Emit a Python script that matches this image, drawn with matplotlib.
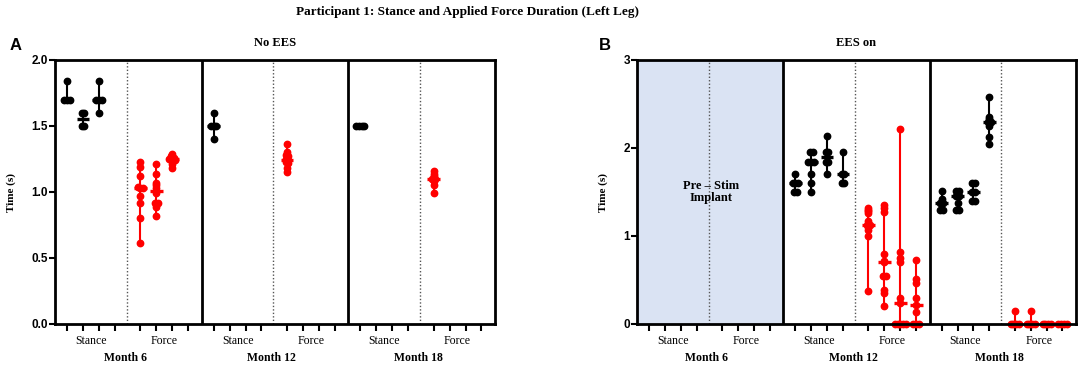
import matplotlib
matplotlib.use("Agg")
import matplotlib.pyplot as plt
import matplotlib.transforms as mtransforms
import numpy as np

TITLE = "Participant 1: Stance and Applied Force Duration (Left Leg)"
MONTHS = ["Month 6", "Month 12", "Month 18"]
PHASES = ["Stance", "Force"]
PANEL_TITLES = ["No EES", "EES on"]
PANEL_LETTERS = ["A", "B"]
A_YTICKS = [0.0, 0.5, 1.0, 1.5, 2.0]
B_YTICKS = [0, 1, 2, 3]
SHADE_TEXT = "Pre \u2013 Stim\nImplant"

# ---------- Panel A : No EES ----------
A_M6_STANCE = [[1.84, 1.70, 1.70, 1.70],
               [1.60, 1.60, 1.50, 1.50],
               [1.84, 1.70, 1.70, 1.70, 1.60]]
A_M6_FORCE = [[1.23, 1.19, 1.12, 1.04, 1.03, 1.03, 0.97, 0.92, 0.80, 0.61],
              [1.21, 1.14, 1.07, 1.05, 1.03, 0.99, 0.92, 0.92, 0.89, 0.82],
              [1.29, 1.27, 1.26, 1.25, 1.25, 1.24, 1.21, 1.18]]
A_M12_STANCE = [[1.60, 1.50, 1.50, 1.50, 1.40]]
A_M12_FORCE = [[1.36, 1.30, 1.28, 1.27, 1.25, 1.24, 1.23, 1.22, 1.18, 1.15]]
A_M18_STANCE = [[1.50, 1.50, 1.50, 1.50]]
A_M18_FORCE = [[1.16, 1.14, 1.12, 1.10, 1.10, 1.08, 1.05, 0.99]]

# ---------- Panel B : EES on ----------
B_M6_STANCE = []
B_M6_FORCE = []
B_M12_STANCE = [[1.70, 1.60, 1.60, 1.60, 1.50, 1.50],
                [1.95, 1.95, 1.84, 1.84, 1.84, 1.70, 1.60, 1.50],
                [2.14, 1.95, 1.95, 1.84, 1.84, 1.70],
                [1.95, 1.70, 1.70, 1.60, 1.60]]
B_M12_FORCE = [[1.32, 1.30, 1.28, 1.26, 1.17, 1.13, 1.12, 1.10, 1.07, 1.00, 0.38],
               [1.35, 1.32, 1.27, 0.79, 0.72, 0.70, 0.55, 0.55, 0.39, 0.35, 0.20],
               [2.22, 0.82, 0.75, 0.70, 0.30, 0.24, 0.0, 0.0, 0.0, 0.0, 0.0],
               [0.73, 0.51, 0.47, 0.30, 0.22, 0.14, 0.0, 0.0, 0.0]]
B_M18_STANCE = [[1.51, 1.42, 1.38, 1.38, 1.30, 1.30],
                [1.51, 1.51, 1.45, 1.45, 1.38, 1.30, 1.30],
                [1.60, 1.60, 1.50, 1.50, 1.40, 1.40],
                [2.58, 2.35, 2.33, 2.30, 2.30, 2.28, 2.25, 2.13, 2.04]]
B_M18_FORCE = [[0.15, 0.0, 0.0, 0.0, 0.0],
               [0.15, 0.0, 0.0, 0.0, 0.0],
               [0.0, 0.0, 0.0, 0.0],
               [0.0, 0.0, 0.0, 0.0]]

A_DATA = [(A_M6_STANCE, A_M6_FORCE), (A_M12_STANCE, A_M12_FORCE), (A_M18_STANCE, A_M18_FORCE)]
B_DATA = [(B_M6_STANCE, B_M6_FORCE), (B_M12_STANCE, B_M12_FORCE), (B_M18_STANCE, B_M18_FORCE)]

SERIF = "Liberation Serif"
SANS = "Liberation Sans"

SEC_W = 9.2
STANCE_X0 = 0.75
FORCE_X0 = 5.35
DIV_X = 4.5
SLOTS = 4


def draw_group(ax, x, vals, color, tol, dx):
    if not vals:
        return
    v = np.sort(np.asarray(vals, dtype=float))[::-1]
    # cluster near-equal values and spread them sideways
    xs = np.zeros_like(v)
    clusters = []
    cur = [0]
    for i in range(1, len(v)):
        if abs(v[cur[0]] - v[i]) <= tol:
            cur.append(i)
        else:
            clusters.append(cur)
            cur = [i]
    clusters.append(cur)
    for c in clusters:
        n = len(c)
        for k, idx in enumerate(c):
            xs[idx] = x + (k - (n - 1) / 2.0) * dx
    med = np.median(v)
    ax.vlines(x, v.min(), v.max(), color=color, lw=1.5, zorder=3)
    ax.hlines(med, x - 0.4, x + 0.4, color=color, lw=2.4, zorder=4)
    ax.plot(xs, v, 'o', ms=4.6, color=color, mec=color, zorder=5, clip_on=False)


def make_panel(ax, data, ymax, yticks, fmt, tol, shade=False):
    ax.set_xlim(0, 3 * SEC_W)
    ax.set_ylim(0, ymax)
    if shade:
        ax.axvspan(0, SEC_W, color="#dae3f3", zorder=0)
        ax.text(SEC_W / 2 + 0.05, ymax * 0.5, SHADE_TEXT, ha="center", va="center",
                fontsize=9, fontweight="bold", family=SERIF, zorder=6, linespacing=1.1)
    ticks = []
    for m, (stance, force) in enumerate(data):
        off = m * SEC_W
        for i in range(SLOTS):
            ticks.append(off + STANCE_X0 + i)
            ticks.append(off + FORCE_X0 + i)
        for i, g in enumerate(stance):
            draw_group(ax, off + STANCE_X0 + i, g, "black", tol, 0.17)
        for i, g in enumerate(force):
            draw_group(ax, off + FORCE_X0 + i, g, "red", tol, 0.17)
        ax.axvline(off + DIV_X, color="#555555", lw=1.0, ls=(0, (1, 1.5)), zorder=2)
        if m > 0:
            ax.axvline(off, color="black", lw=2.0, zorder=6)
        trans = mtransforms.blended_transform_factory(ax.transData, ax.transAxes)
        ax.text(off + STANCE_X0 + 1.5, -0.04, PHASES[0], transform=trans, ha="center", va="top",
                fontsize=8.5, family=SERIF)
        ax.text(off + FORCE_X0 + 1.5, -0.04, PHASES[1], transform=trans, ha="center", va="top",
                fontsize=8.5, family=SERIF)
        ax.text(off + DIV_X - 0.1, -0.105, MONTHS[m], transform=trans, ha="center", va="top",
                fontsize=8.5, fontweight="bold", family=SERIF)
    ax.set_xticks(sorted(ticks))
    ax.set_xticklabels([])
    ax.tick_params(axis="x", direction="out", length=5, width=1.5)
    ax.set_yticks(yticks)
    ax.set_yticklabels([fmt.format(t) for t in yticks], fontsize=8.5, fontweight="bold", family=SANS)
    ax.tick_params(axis="y", direction="out", length=4, width=1.5, pad=1)
    for s in ax.spines.values():
        s.set_linewidth(2.0)
        s.set_zorder(7)
    ax.set_ylabel("Time (s)", fontsize=8, fontweight="bold", family=SERIF, labelpad=11)


fig = plt.figure(figsize=(10.84, 3.69), dpi=100)
W, H = 1084.0, 369.0
axA = fig.add_axes([55 / W, 1 - 324 / H, 440 / W, 264 / H])
axB = fig.add_axes([637 / W, 1 - 324 / H, 439 / W, 264 / H])

make_panel(axA, A_DATA, 2.0, A_YTICKS, "{:.1f}", 0.015)
make_panel(axB, B_DATA, 3.0, B_YTICKS, "{:d}", 0.02, shade=True)

fig.text(467 / W, 1 - 12 / H, TITLE, ha="center", va="center", fontsize=9.5,
         fontweight="bold", family=SERIF)
fig.text(275 / W, 1 - 43 / H, PANEL_TITLES[0], ha="center", va="center", fontsize=9,
         fontweight="bold", family=SERIF)
fig.text(856 / W, 1 - 43 / H, PANEL_TITLES[1], ha="center", va="center", fontsize=9,
         fontweight="bold", family=SERIF)
fig.text(16 / W, 1 - 46 / H, PANEL_LETTERS[0], ha="center", va="center", fontsize=12,
         fontweight="bold", family=SANS)
fig.text(605 / W, 1 - 46 / H, PANEL_LETTERS[1], ha="center", va="center", fontsize=12,
         fontweight="bold", family=SANS)

fig.savefig("out.png", dpi=100)
